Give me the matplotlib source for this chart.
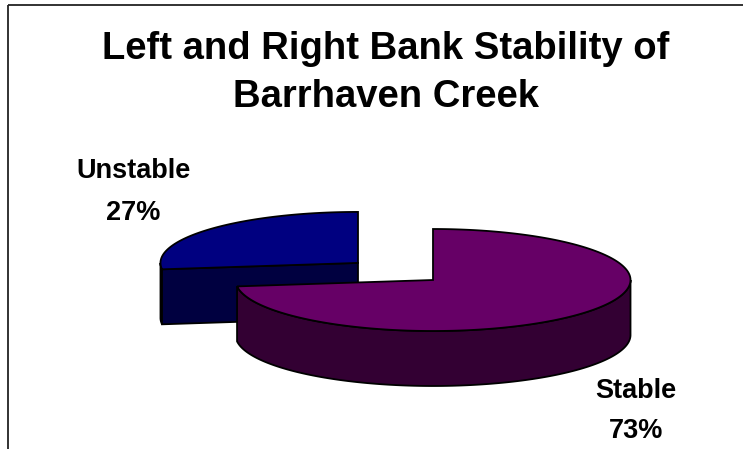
import numpy as np
import matplotlib
matplotlib.use("Agg")
import matplotlib.pyplot as plt
from matplotlib.patches import Polygon

# ---- data ----
categories = ["Stable", "Unstable"]
values = [73, 27]
colors_top = ["#660066", "#000080"]
colors_side = ["#330033", "#000040"]
explode = [0, 100]
title_lines = ["Left and Right Bank Stability of", "Barrhaven Creek"]

# ---- geometry (pixels) ----
W, H = 743, 449
cx0, cy0 = 433, 280      # pie centre
a, b = 197.5, 51         # ellipse semi-axes
depth = 55               # thickness

fig = plt.figure(figsize=(W / 100, H / 100), dpi=100)
ax = fig.add_axes([0, 0, 1, 1])
ax.set_xlim(0, W)
ax.set_ylim(H, 0)
ax.axis("off")

# frame lines (top and left)
ax.plot([8, W], [5, 5], color="#222222", lw=1.3, solid_capstyle="butt")
ax.plot([8, 8], [5, H], color="#222222", lw=1.3, solid_capstyle="butt")

total = float(sum(values))
starts, ends = [], []
acc = 0.0
for v in values:
    starts.append(acc / total * 360.0)
    acc += v
    ends.append(acc / total * 360.0)


def pt(cx, cy, th, dy=0.0):
    r = np.radians(th)
    return cx + a * np.sin(r), cy - b * np.cos(r) + dy


def arc(cx, cy, t1, t2, dy=0.0, n=200):
    th = np.linspace(t1, t2, n)
    r = np.radians(th)
    return np.column_stack([cx + a * np.sin(r), cy - b * np.cos(r) + dy])


ec = "black"
lw = 1.3


def draw_slice(i, z):
    t1, t2 = starts[i], ends[i]
    tm = (t1 + t2) / 2
    d = explode[i]
    cx = cx0 + d * np.sin(np.radians(tm))
    cy = cy0 - d * np.cos(np.radians(tm)) * b / a
    # outer wall: visible for angles between 90 and 270
    lo, hi = max(t1, 90), min(t2, 270)
    if hi > lo:
        top = arc(cx, cy, lo, hi)
        bot = arc(cx, cy, lo, hi, dy=depth)[::-1]
        ax.add_patch(Polygon(np.vstack([top, bot]), closed=True,
                             fc=colors_side[i], ec=ec, lw=lw, zorder=z))
    # cut faces facing the viewer
    for th, sign in ((t1, -1), (t2, 1)):
        # normal direction of face
        nth = th + sign * 90
        if np.cos(np.radians(nth)) < -1e-6:  # faces front
            px, py = pt(cx, cy, th)
            poly = [(cx, cy), (px, py), (px, py + depth), (cx, cy + depth)]
            ax.add_patch(Polygon(poly, closed=True, fc=colors_side[i],
                                 ec=ec, lw=lw, zorder=z))
    # top face
    rim = arc(cx, cy, t1, t2)
    ax.add_patch(Polygon(np.vstack([[cx, cy], rim]), closed=True,
                         fc=colors_top[i], ec=ec, lw=lw, zorder=z + 0.5))


draw_slice(1, 2)
draw_slice(0, 4)

font = "Liberation Sans"
ax.text(386, 59, title_lines[0], ha="center", va="baseline",
        fontsize=27.5, fontweight="bold", family=font)
ax.text(386, 107, title_lines[1], ha="center", va="baseline",
        fontsize=27.5, fontweight="bold", family=font)

label_pos = {"Stable": (636, 398, 438), "Unstable": (133, 178, 220)}
for c, v in zip(categories, values):
    x, y1, y2 = label_pos[c]
    ax.text(x, y1, c, ha="center", va="baseline", fontsize=19.5,
            fontweight="bold", family=font)
    ax.text(x, y2, f"{round(v / total * 100)}%", ha="center", va="baseline",
            fontsize=19.5, fontweight="bold", family=font)

fig.savefig("out.png", dpi=100, facecolor="white")
